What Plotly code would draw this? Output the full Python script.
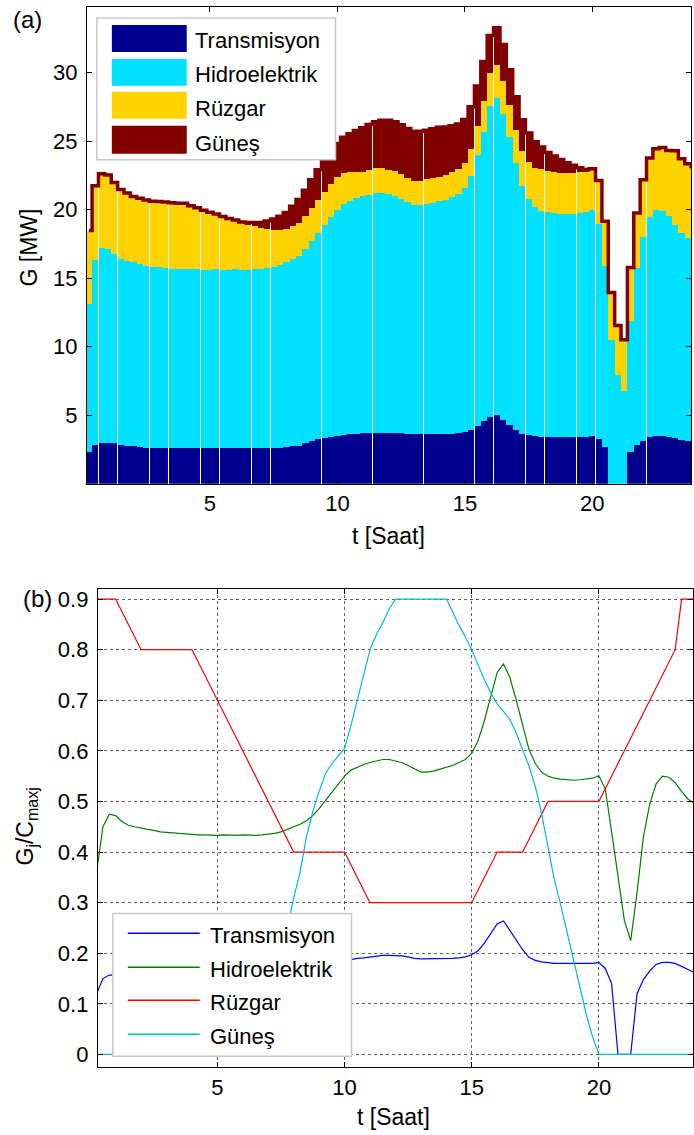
import plotly.graph_objects as go

# ---------------------------------------------------------------
# Data: normalized output of each source (G_j / C_max,j), 15-min steps
# ---------------------------------------------------------------
W_PX, H_PX = 694, 1135

names = ["Transmisyon", "Hidroelektrik", "Rüzgar", "Güneş"]

# installed capacities [MW]
C_T, C_H, C_W, C_S = 19, 30, 6, 4

# time axis [h]: 0.25, 0.50, ..., 24.00
t = [0.25 * k for k in range(1, 97)]

trans_ratio = [
    0.120, 0.150, 0.157, 0.157, 0.155, 0.147, 0.146, 0.145,
    0.141, 0.138, 0.138, 0.138, 0.138, 0.138, 0.138, 0.138,
    0.138, 0.138, 0.138, 0.138, 0.138, 0.138, 0.138, 0.138,
    0.138, 0.138, 0.138, 0.138, 0.138, 0.138, 0.138, 0.140,
    0.145, 0.146, 0.155, 0.165, 0.170, 0.176, 0.181, 0.185,
    0.188, 0.190, 0.191, 0.193, 0.195, 0.196, 0.196, 0.196,
    0.195, 0.193, 0.190, 0.189, 0.189, 0.190, 0.189, 0.190,
    0.190, 0.191, 0.193, 0.197, 0.205, 0.220, 0.240, 0.258,
    0.264, 0.245, 0.225, 0.207, 0.192, 0.186, 0.183, 0.181,
    0.180, 0.180, 0.180, 0.180, 0.180, 0.180, 0.180, 0.182,
    0.170, 0.140, 0.000, 0.000, 0.000, 0.120, 0.148, 0.165,
    0.178, 0.182, 0.182, 0.180, 0.174, 0.167, 0.162, 0.160,
]

hydro_ratio = [
    0.360, 0.450, 0.475, 0.472, 0.460, 0.453, 0.450, 0.447,
    0.445, 0.443, 0.440, 0.439, 0.438, 0.436, 0.435, 0.435,
    0.434, 0.434, 0.433, 0.433, 0.434, 0.433, 0.433, 0.434,
    0.433, 0.433, 0.434, 0.435, 0.437, 0.440, 0.445, 0.450,
    0.455, 0.462, 0.472, 0.486, 0.502, 0.518, 0.535, 0.550,
    0.562, 0.568, 0.573, 0.577, 0.580, 0.583, 0.583, 0.580,
    0.577, 0.571, 0.564, 0.558, 0.558, 0.560, 0.564, 0.567,
    0.571, 0.577, 0.583, 0.595, 0.620, 0.660, 0.705, 0.755,
    0.772, 0.745, 0.700, 0.650, 0.603, 0.575, 0.558, 0.550,
    0.546, 0.544, 0.543, 0.542, 0.543, 0.544, 0.546, 0.551,
    0.525, 0.440, 0.350, 0.265, 0.225, 0.320, 0.430, 0.495,
    0.535, 0.550, 0.548, 0.537, 0.520, 0.505, 0.496, 0.490,
]

wind_ratio = [
    0.900, 0.900, 0.900, 0.900, 0.875, 0.850, 0.825, 0.800,
    0.800, 0.800, 0.800, 0.800, 0.800, 0.800, 0.800, 0.800,
    0.775, 0.750, 0.725, 0.700, 0.675, 0.650, 0.625, 0.600,
    0.575, 0.550, 0.525, 0.500, 0.475, 0.450, 0.425, 0.400,
    0.400, 0.400, 0.400, 0.400, 0.400, 0.400, 0.400, 0.400,
    0.375, 0.350, 0.325, 0.300, 0.300, 0.300, 0.300, 0.300,
    0.300, 0.300, 0.300, 0.300, 0.300, 0.300, 0.300, 0.300,
    0.300, 0.300, 0.300, 0.300, 0.325, 0.350, 0.375, 0.400,
    0.400, 0.400, 0.400, 0.400, 0.425, 0.450, 0.475, 0.500,
    0.500, 0.500, 0.500, 0.500, 0.500, 0.500, 0.500, 0.500,
    0.525, 0.550, 0.575, 0.600, 0.625, 0.650, 0.675, 0.700,
    0.725, 0.750, 0.775, 0.800, 0.900, 0.900, 0.900, 0.900,
]

solar_ratio = [
    0.000, 0.000, 0.000, 0.000, 0.000, 0.000, 0.000, 0.000,
    0.000, 0.000, 0.000, 0.000, 0.000, 0.000, 0.000, 0.000,
    0.000, 0.000, 0.000, 0.000, 0.000, 0.000, 0.000, 0.000,
    0.010, 0.040, 0.070, 0.100, 0.150, 0.200, 0.250, 0.310,
    0.360, 0.430, 0.480, 0.520, 0.555, 0.575, 0.590, 0.605,
    0.650, 0.700, 0.755, 0.800, 0.830, 0.853, 0.880, 0.900,
    0.900, 0.900, 0.900, 0.900, 0.900, 0.900, 0.900, 0.900,
    0.875, 0.848, 0.825, 0.800, 0.770, 0.740, 0.715, 0.693,
    0.678, 0.662, 0.635, 0.603, 0.570, 0.530, 0.475, 0.410,
    0.345, 0.295, 0.240, 0.185, 0.135, 0.080, 0.035, 0.000,
    0.000, 0.000, 0.000, 0.000, 0.000, 0.000, 0.000, 0.000,
    0.000, 0.000, 0.000, 0.000, 0.000, 0.000, 0.000, 0.000,
]

ratios = [trans_ratio, hydro_ratio, wind_ratio, solar_ratio]
caps = [C_T, C_H, C_W, C_S]

# generation in MW for the stacked bars
gen = [[r * c for r in series] for series, c in zip(ratios, caps)]
total = [sum(v) for v in zip(*gen)]

bar_colors = ["#00008F", "#00E1FF", "#FFD200", "#800000"]
line_colors = ["#0000FF", "#008000", "#FF0000", "#00BFBF"]

FONT = "Liberation Sans, Arial, sans-serif"
TICK = dict(family=FONT, size=22, color="black")
TITLE = dict(family=FONT, size=23, color="black")


def px(x):
    return x / W_PX


def py(y):
    return 1 - y / H_PX


fig = go.Figure()

# (a) stacked generation bars
for name, vals, col in zip(names, gen, bar_colors):
    fig.add_trace(go.Bar(
        x=t, y=vals, name=name, marker=dict(color=col, line=dict(width=0)),
        showlegend=False, xaxis="x", yaxis="y", hoverinfo="skip",
    ))
# bar edge of the top (solar) layer
fig.add_trace(go.Scatter(
    x=t, y=total, mode="lines", line=dict(color=bar_colors[3], width=3.5, shape="hvh"),
    showlegend=False, xaxis="x", yaxis="y", hoverinfo="skip",
))

# (b) normalized output lines
for name, vals, col in zip(names, ratios, line_colors):
    fig.add_trace(go.Scatter(
        x=t, y=vals, name=name, mode="lines", line=dict(color=col, width=1.2),
        showlegend=False, xaxis="x2", yaxis="y2",
    ))

axis_common = dict(
    showline=True, linecolor="black", linewidth=1, mirror="allticks",
    ticks="inside", ticklen=5, tickwidth=1, tickcolor="black",
    zeroline=False, tickfont=TICK,
)

a_dom_y = [py(482.5), py(5)]
b_dom_y = [py(1067), py(588)]

fig.update_layout(
    width=W_PX, height=H_PX,
    margin=dict(l=0, r=0, t=0, b=0),
    paper_bgcolor="white", plot_bgcolor="white",
    barmode="stack", bargap=0.03,
    xaxis=dict(domain=[px(87), px(692)], range=[0.17, 23.87], anchor="y",
               tickvals=[5, 10, 15, 20], showgrid=False, **axis_common),
    yaxis=dict(domain=a_dom_y, range=[0, 34.8], anchor="x",
               tickvals=[5, 10, 15, 20, 25, 30], showgrid=False,
               ticklabelstandoff=4, **axis_common),
    xaxis2=dict(domain=[px(98), 1.0], range=[0.3, 23.7], anchor="y2",
                tickvals=[5, 10, 15, 20], showgrid=True, gridcolor="#606060",
                griddash="dot", gridwidth=1, **axis_common),
    yaxis2=dict(domain=b_dom_y, range=[-0.025, 0.92], anchor="x2",
                tickvals=[0, 0.1, 0.2, 0.3, 0.4, 0.5, 0.6, 0.7, 0.8, 0.9],
                ticktext=["0", "0.1", "0.2", "0.3", "0.4", "0.5", "0.6", "0.7", "0.8", "0.9"],
                showgrid=True, gridcolor="#606060", griddash="dot", gridwidth=1,
                ticklabelstandoff=4, **axis_common),
)

shapes = []
annotations = []

# legend of panel (a)
shapes.append(dict(type="rect", xref="paper", yref="paper", layer="above",
                   x0=px(97), x1=px(336), y0=py(158), y1=py(16),
                   fillcolor="white", line=dict(color="#C8C8C8", width=1.5)))
a_rows = [(23, 50, 38.5), (57, 84, 73), (90, 117, 107), (124, 152, 141.5)]
for (y0, y1, yc), name, col in zip(a_rows, names, bar_colors):
    shapes.append(dict(type="rect", xref="paper", yref="paper", layer="above",
                       x0=px(112), x1=px(187), y0=py(y1), y1=py(y0),
                       fillcolor=col, line=dict(width=0)))
    annotations.append(dict(text=name, x=px(193), y=py(yc), xref="paper", yref="paper",
                            xanchor="left", yanchor="middle", showarrow=False,
                            font=dict(family=FONT, size=22, color="black")))

# legend of panel (b)
shapes.append(dict(type="rect", xref="paper", yref="paper", layer="above",
                   x0=px(113), x1=px(352), y0=py(1056), y1=py(913),
                   fillcolor="white", line=dict(color="#C8C8C8", width=1.5)))
b_rows = [933, 967, 1000, 1034]
for yl, name, col in zip(b_rows, names, line_colors):
    shapes.append(dict(type="line", xref="paper", yref="paper", layer="above",
                       x0=px(128), x1=px(200), y0=py(yl), y1=py(yl),
                       line=dict(color=col, width=1.5)))
    annotations.append(dict(text=name, x=px(208), y=py(yl + 2), xref="paper", yref="paper",
                            xanchor="left", yanchor="middle", showarrow=False,
                            font=dict(family=FONT, size=22, color="black")))

# panel tags and axis titles
annotations += [
    dict(text="(a)", x=px(28), y=py(18), font=dict(family=FONT, size=24, color="black")),
    dict(text="(b)", x=px(38), y=py(598), font=dict(family=FONT, size=24, color="black")),
    dict(text="G [MW]", x=px(29), y=py(246), textangle=-90, font=TITLE),
    dict(text="t [Saat]", x=px(389), y=py(535), font=TITLE),
    dict(text="G<sub>j</sub>/C<sub>maxj</sub>", x=px(27), y=py(826), textangle=-90, font=TITLE),
    dict(text="t [Saat]", x=px(394), y=py(1117), font=TITLE),
]
for a in annotations[-6:]:
    a.update(xref="paper", yref="paper", xanchor="center", yanchor="middle", showarrow=False)

fig.update_layout(shapes=shapes, annotations=annotations)

fig.write_html("out.html")
